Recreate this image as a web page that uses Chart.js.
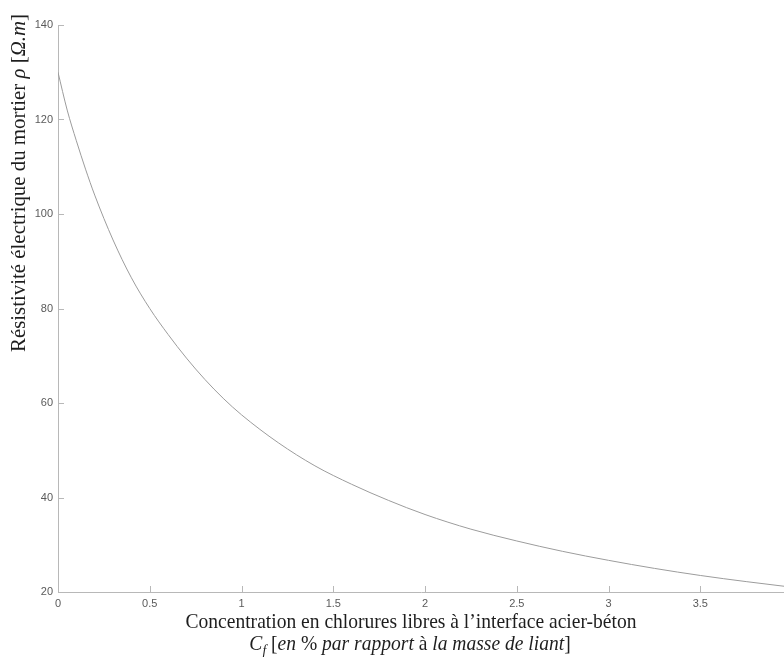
<!DOCTYPE html>
<html>
<head>
<meta charset="utf-8">
<script src="https://cdn.jsdelivr.net/npm/chart.js@4.4.1/dist/chart.umd.min.js"></script>
<style>
  html, body { margin: 0; padding: 0; background: #fff; overflow: hidden; }
</style>
</head>
<body>
<canvas id="chart" width="784" height="657"></canvas>
<script>
// concentration en chlorures libres (% masse de liant)
const concentration = [0, 0.05, 0.1, 0.15, 0.2, 0.3, 0.4, 0.5, 0.6, 0.7, 0.8, 0.9, 1.0,
  1.2, 1.4, 1.6, 1.8, 2.0, 2.25, 2.5, 2.75, 3.0, 3.25, 3.5, 3.75, 3.96];
// résistivité électrique du mortier (Ohm.m)
const resistivity = [130, 122, 115.5, 109.5, 104, 94.5, 86.5, 80, 74.5, 69.5, 65, 61, 57.5,
  51.6, 46.7, 42.8, 39.4, 36.4, 33.3, 30.8, 28.6, 26.7, 25, 23.5, 22.2, 21.2];

const xTicks = [0, 0.5, 1, 1.5, 2, 2.5, 3, 3.5];
const yTicks = [20, 40, 60, 80, 100, 120, 140];

const yTitle = [
  { text: 'Résistivité électrique du mortier ' },
  { text: 'ρ', italic: true },
  { text: ' [' },
  { text: 'Ω.m', italic: true },
  { text: ']' }
];
const xTitle1 = [{ text: 'Concentration en chlorures libres à l’interface acier-béton' }];
const xTitle2 = [
  { text: 'C', italic: true },
  { text: 'f', italic: true, sub: true },
  { text: ' [' },
  { text: 'en', italic: true },
  { text: ' % ' },
  { text: 'par rapport ', italic: true },
  { text: 'à ' },
  { text: 'la masse de liant', italic: true },
  { text: ']' }
];

const axisColor = '#b8b8b8';
const titleSize = 21;

function setFont(ctx, seg) {
  const size = seg.sub ? titleSize * 0.7 : titleSize;
  ctx.font = (seg.italic ? 'italic ' : '') + size + 'px "Liberation Serif", "DejaVu Serif", serif';
}

function richWidth(ctx, segs) {
  let w = 0;
  segs.forEach(s => { setFont(ctx, s); w += ctx.measureText(s.text).width; });
  return w;
}

function drawRich(ctx, segs) {
  let x = 0;
  segs.forEach(s => {
    setFont(ctx, s);
    ctx.fillText(s.text, x, s.sub ? titleSize * 0.22 : 0);
    x += ctx.measureText(s.text).width;
  });
}

// MATLAB style tick marks, pointing into the plot
const inwardTicks = {
  id: 'inwardTicks',
  afterDatasetsDraw(chart) {
    const { ctx, chartArea, scales } = chart;
    ctx.save();
    ctx.strokeStyle = axisColor;
    ctx.lineWidth = 1;
    ctx.beginPath();
    scales.x.ticks.forEach(t => {
      const px = Math.round(scales.x.getPixelForValue(t.value)) + 0.5;
      ctx.moveTo(px, chartArea.bottom);
      ctx.lineTo(px, chartArea.bottom - 6);
    });
    scales.y.ticks.forEach(t => {
      const py = Math.round(scales.y.getPixelForValue(t.value)) + 0.5;
      ctx.moveTo(chartArea.left, py);
      ctx.lineTo(chartArea.left + 6, py);
    });
    ctx.stroke();
    ctx.restore();
  }
};

const axisTitles = {
  id: 'axisTitles',
  afterDraw(chart) {
    const ctx = chart.ctx;
    ctx.save();
    ctx.fillStyle = '#1e1e1e';
    ctx.textBaseline = 'alphabetic';
    ctx.textAlign = 'left';

    const w1 = richWidth(ctx, xTitle1);
    const sx = Math.min(1, 451 / w1);

    ctx.save();
    ctx.translate(411 - w1 * sx / 2, 628);
    ctx.scale(sx, 1);
    drawRich(ctx, xTitle1);
    ctx.restore();

    const w2 = richWidth(ctx, xTitle2);
    ctx.save();
    ctx.translate(410 - w2 * sx / 2, 650);
    ctx.scale(sx, 1);
    drawRich(ctx, xTitle2);
    ctx.restore();

    const wy = richWidth(ctx, yTitle);
    const sy = Math.min(1, 338 / wy);
    ctx.save();
    ctx.translate(25, 14 + wy * sy);
    ctx.rotate(-Math.PI / 2);
    ctx.scale(sy, 1);
    drawRich(ctx, yTitle);
    ctx.restore();

    ctx.restore();
  }
};

const tickFont = { family: '"Liberation Sans", Arial, sans-serif', size: 11 };

new Chart(document.getElementById('chart'), {
  type: 'line',
  data: {
    datasets: [{
      data: concentration.map((c, i) => ({ x: c, y: resistivity[i] })),
      borderColor: '#9c9c9c',
      borderWidth: 1,
      pointRadius: 0,
      fill: false,
      cubicInterpolationMode: 'monotone'
    }]
  },
  options: {
    responsive: false,
    animation: false,
    layout: { padding: { top: 25, left: 0, right: 0, bottom: 0 } },
    plugins: { legend: { display: false }, tooltip: { enabled: false } },
    scales: {
      x: {
        type: 'linear',
        min: 0,
        max: 3.956,
        afterBuildTicks: s => { s.ticks = xTicks.map(v => ({ value: v })); },
        afterFit: s => { s.height = 65; },
        grid: { display: false, drawTicks: false },
        border: { display: true, color: axisColor, width: 1 },
        ticks: { font: tickFont, color: '#5a5a5a', padding: 5, maxRotation: 0, autoSkip: false, callback: v => String(v) }
      },
      y: {
        min: 20,
        max: 140,
        afterBuildTicks: s => { s.ticks = yTicks.map(v => ({ value: v })); },
        afterFit: s => { s.width = 58; },
        grid: { display: false, drawTicks: false },
        border: { display: true, color: axisColor, width: 1 },
        ticks: { font: tickFont, color: '#5a5a5a', padding: 5, callback: v => String(v) }
      }
    }
  },
  plugins: [inwardTicks, axisTitles]
});
</script>
</body>
</html>
